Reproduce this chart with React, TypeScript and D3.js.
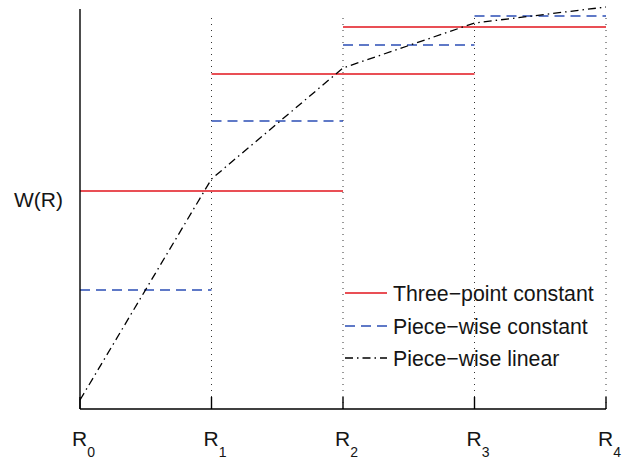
import React from "react";
import * as d3 from "d3";

// ---- data ----
const rIndex = [0, 1, 2, 3, 4];
const rSubscripts = ["0", "1", "2", "3", "4"];
const yLabel = "W(R)";

// three-point constant: spans [start, end] over R indices
const threePointStart = [0, 1, 2];
const threePointEnd = [2, 3, 4];
const threePointValues = [0.545, 0.8375, 0.955];

// piece-wise constant: one value per interval [R_i, R_{i+1}]
const pieceConstValues = [0.2975, 0.72, 0.91, 0.9825];

// piece-wise linear: value at each R_i
const pieceLinearValues = [0.0225, 0.575, 0.8525, 0.965, 1.005];

const legendLabels = ["Three\u2212point constant", "Piece\u2212wise constant", "Piece\u2212wise linear"];

// ---- styles ----
const W = 631;
const H = 461;
const RED = "#e2141c";
const BLUE = "#2b4db5";
const BLACK = "#000";
const FONT = "'Liberation Sans', Arial, Helvetica, sans-serif";
const TEXT = "#151515";

export default function App() {
  const x = d3.scaleLinear().domain([0, 4]).range([80, 606]);
  const y = d3.scaleLinear().domain([0, 1]).range([409, 9]);
  const line = d3
    .line<number>()
    .x((_, i) => x(rIndex[i]))
    .y((d) => y(d));

  const legendX0 = 345;
  const legendX1 = 387;
  const legendTextX = 393;
  const legendY = [293, 326, 358];
  const styles = [
    { stroke: RED, dash: undefined as string | undefined },
    { stroke: BLUE, dash: "10,6" },
    { stroke: BLACK, dash: "8,4,1.5,4" },
  ];

  return (
    <svg
      width={W}
      height={H}
      style={{ position: "absolute", left: 0, top: 0, background: "#fff" }}
      fontFamily={FONT}
    >
      <rect x={0} y={0} width={W} height={H} fill="#fff" />
      {/* dotted vertical grid lines */}
      {rIndex.slice(1).map((r) => (
        <line
          key={"g" + r}
          x1={x(r)}
          x2={x(r)}
          y1={y(0)}
          y2={13}
          stroke="#333"
          strokeWidth={1}
          strokeDasharray="1,5"
        />
      ))}
      {/* three-point constant */}
      {threePointValues.map((v, i) => (
        <line
          key={"t" + i}
          x1={x(threePointStart[i])}
          x2={x(threePointEnd[i])}
          y1={y(v)}
          y2={y(v)}
          stroke={RED}
          strokeWidth={1.3}
        />
      ))}
      {/* piece-wise constant */}
      {pieceConstValues.map((v, i) => (
        <line
          key={"p" + i}
          x1={x(rIndex[i])}
          x2={x(rIndex[i + 1])}
          y1={y(v)}
          y2={y(v)}
          stroke={BLUE}
          strokeWidth={1.3}
          strokeDasharray="10,6"
        />
      ))}
      {/* piece-wise linear */}
      <path
        d={line(pieceLinearValues) || ""}
        fill="none"
        stroke={BLACK}
        strokeWidth={1.3}
        strokeDasharray="8,4,1.5,4"
      />
      {/* axes */}
      <line x1={x(0)} x2={x(0)} y1={y(0)} y2={y(1)} stroke="#000" strokeWidth={1.4} />
      <line x1={x(0)} x2={x(4)} y1={y(0)} y2={y(0)} stroke="#000" strokeWidth={1.4} />
      {rIndex.map((r) => (
        <line key={"tk" + r} x1={x(r)} x2={x(r)} y1={y(0)} y2={y(0) - 12} stroke="#000" strokeWidth={1.4} />
      ))}
      {/* x tick labels */}
      {rIndex.map((r, i) => (
        <text key={"xl" + r} x={x(r) - 8} y={446} fontSize={21} fill={TEXT}>
          R
          <tspan fontSize={14} dy={11}>
            {rSubscripts[i]}
          </tspan>
        </text>
      ))}
      {/* y label */}
      <text x={63} y={207} fontSize={21} fill={TEXT} textAnchor="end">
        {yLabel}
      </text>
      {/* legend */}
      {legendLabels.map((lab, i) => (
        <g key={"lg" + i}>
          <line
            x1={legendX0}
            x2={legendX1}
            y1={legendY[i]}
            y2={legendY[i]}
            stroke={styles[i].stroke}
            strokeWidth={1.3}
            strokeDasharray={styles[i].dash}
          />
          <text x={legendTextX} y={legendY[i] + 8} fontSize={21.3} fill={TEXT}>
            {lab}
          </text>
        </g>
      ))}
    </svg>
  );
}
